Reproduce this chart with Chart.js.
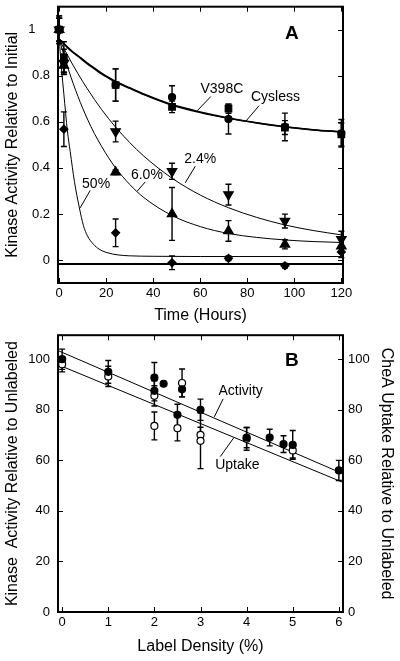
<!DOCTYPE html>
<html>
<head>
<meta charset="utf-8">
<script src="https://cdn.jsdelivr.net/npm/chart.js@4.4.1/dist/chart.umd.min.js"></script>
<style>
  html, body { margin: 0; padding: 0; background: #fff; }
  #wrap { position: relative; width: 400px; height: 661px; }
  canvas { position: absolute; left: 0; display: block; }
  #chartA { top: 0; }
  #chartB { top: 330px; }
</style>
</head>
<body>
<div id="wrap">
  <canvas id="chartA" width="400" height="330"></canvas>
  <canvas id="chartB" width="400" height="331"></canvas>
</div>
<script>
// ---- panel A: kinase activity vs time ----
var timesA = [0, 2, 24, 48, 72, 96, 120];
var v398c = [1.0, 0.865, 0.76, 0.707, 0.612, 0.578, 0.55];
var v398cErr = [0.06, 0.05, 0.07, 0.05, 0.065, 0.06, 0.06];
var cysless = [1.0, 0.878, 0.76, 0.665, 0.657, 0.575, 0.545];
var cyslessErr = [0.06, 0.07, 0.07, 0.025, 0.02, 0.03, 0.05];
var lab24 = [1.0, 0.855, 0.558, 0.385, 0.284, 0.169, 0.09];
var lab24Err = [0.05, 0.04, 0.045, 0.035, 0.045, 0.03, 0.035];
var lab60 = [1.0, 0.845, 0.381, 0.2, 0.126, 0.068, 0.06];
var lab60Err = [0.05, 0.04, 0.01, 0.115, 0.045, 0.02, 0.03];
var lab50 = [1.0, 0.568, 0.118, -0.012, 0.007, -0.025, 0.035];
var lab50Err = [0.05, 0.075, 0.06, 0.03, 0.01, 0.01, 0.025];

// fitted curves
var fitTimes = [0, 2, 4, 6, 8, 10, 12, 15, 18, 21, 24, 30, 36, 48, 60, 72, 84, 96, 108, 120];
var v398cFit = [0.96, 0.94, 0.92, 0.902, 0.887, 0.871, 0.855, 0.833, 0.812, 0.793, 0.776, 0.748, 0.721, 0.675, 0.643, 0.617, 0.596, 0.579, 0.566, 0.557];
var cyslessFit = [0.96, 0.939, 0.918, 0.9, 0.885, 0.868, 0.852, 0.83, 0.808, 0.79, 0.773, 0.745, 0.718, 0.672, 0.64, 0.615, 0.595, 0.578, 0.565, 0.556];
var fit24 = [0.96, 0.919, 0.881, 0.844, 0.809, 0.775, 0.743, 0.697, 0.654, 0.614, 0.577, 0.51, 0.451, 0.355, 0.282, 0.227, 0.185, 0.152, 0.128, 0.109];
var fit60 = [0.96, 0.89, 0.825, 0.765, 0.71, 0.659, 0.612, 0.549, 0.494, 0.444, 0.4, 0.328, 0.271, 0.193, 0.145, 0.115, 0.098, 0.087, 0.08, 0.076];
var fit50Times = [0, 1, 2, 3.5, 4.7, 6.5, 8.6, 10.3, 12, 14.6, 17, 20.3, 25, 30, 40, 60, 120];
var fit50 = [0.96, 0.83, 0.72, 0.56, 0.47, 0.34, 0.226, 0.15, 0.105, 0.068, 0.047, 0.032, 0.022, 0.018, 0.016, 0.015, 0.015];
var baseTimes = [-0.5, 120.7];
var baseLine = [-0.018, -0.018];

var xTicksA = [0, 20, 40, 60, 80, 100, 120];
var yTicksA = [0, 0.2, 0.4, 0.6, 0.8, 1];
var yLabelsA = ['0', '0.2', '0.4', '0.6', '0.8', '1\u2007\u2007'];

// ---- panel B: activity / uptake vs label density ----
var densAct = [0, 1, 2, 2, 2.2, 2.5, 2.6, 3, 4, 4.5, 4.8, 5, 6];
var activity = [100, 95, 92.7, 87.5, 90.3, 78, 88.1, 80, 69, 69, 66.4, 66.1, 56];
var activityErr = [4, 4.5, 6, 4, 0, 4.2, 3, 4.2, 4, 3.3, 3.3, 5.7, 4];
var densUp = [0, 1, 2, 2, 2.5, 2.6, 3, 3, 4, 5];
var uptake = [98, 93.2, 85.5, 73.6, 72.7, 90.6, 70.1, 67.7, 68.5, 63.9];
var uptakeErr = [3, 4, 4, 5.5, 5, 5.5, 3, 11, 4.5, 3];
var lineDens = [-0.1, 6.1];
var activityLine = [103.5, 54.6];
var uptakeLine = [97.9, 51.2];

var xTicksB = [0, 1, 2, 3, 4, 5, 6];
var yTicksB = [0, 20, 40, 60, 80, 100];

Chart.defaults.font.family = "'Liberation Sans', Arial, Helvetica, sans-serif";
Chart.defaults.color = '#000';

function pts(xs, ys) {
    return xs.map(function (x, i) { return { x: x, y: ys[i] }; });
}

function markers(label, xs, ys, errs, style, radius, rot, fill) {
    return {
        label: label,
        data: pts(xs, ys),
        errors: errs,
        showLine: false,
        pointStyle: style,
        pointRadius: radius,
        pointRotation: rot,
        pointBackgroundColor: fill,
        pointBorderColor: '#000',
        pointBorderWidth: 1.2,
        clip: false,
        order: 0
    };
}

function curve(label, xs, ys, w) {
    return {
        label: label,
        data: pts(xs, ys),
        showLine: true,
        pointRadius: 0,
        borderColor: '#000',
        borderWidth: w,
        cubicInterpolationMode: 'monotone',
        fill: false,
        order: 1
    };
}

// error bars drawn behind the markers
var errorBars = {
    id: 'errorBars',
    beforeDatasetsDraw: function (chart) {
        var ctx = chart.ctx;
        var ys = chart.scales.y;
        ctx.save();
        ctx.strokeStyle = '#000';
        ctx.lineWidth = 1.4;
        chart.data.datasets.forEach(function (ds, i) {
            if (!ds.errors) return;
            var meta = chart.getDatasetMeta(i);
            ds.data.forEach(function (p, j) {
                var e = ds.errors[j];
                if (!e) return;
                var x = meta.data[j].x;
                var top = ys.getPixelForValue(p.y + e);
                var bot = ys.getPixelForValue(p.y - e);
                ctx.beginPath();
                ctx.moveTo(x, top); ctx.lineTo(x, bot);
                ctx.moveTo(x - 3, top); ctx.lineTo(x + 3, top);
                ctx.moveTo(x - 3, bot); ctx.lineTo(x + 3, bot);
                ctx.stroke();
            });
        });
        ctx.restore();
    }
};

// box around the plot with inward ticks on all four sides
var frame = {
    id: 'frame',
    afterDraw: function (chart) {
        var ctx = chart.ctx, a = chart.chartArea;
        var xs = chart.scales.x, ys = chart.scales.y;
        ctx.save();
        ctx.strokeStyle = '#000';
        ctx.lineWidth = 1;
        ctx.beginPath();
        xs.ticks.forEach(function (t) {
            var x = Math.round(xs.getPixelForValue(t.value)) + 0.5;
            ctx.moveTo(x, a.bottom); ctx.lineTo(x, a.bottom - 5);
            ctx.moveTo(x, a.top); ctx.lineTo(x, a.top + 5);
        });
        ys.ticks.forEach(function (t) {
            var y = Math.round(ys.getPixelForValue(t.value)) + 0.5;
            ctx.moveTo(a.left, y); ctx.lineTo(a.left + 5, y);
            ctx.moveTo(a.right, y); ctx.lineTo(a.right - 5, y);
        });
        ctx.stroke();
        ctx.lineWidth = 2;
        ctx.strokeRect(a.left, a.top, a.right - a.left, a.bottom - a.top);
        ctx.restore();
    }
};

// curve labels with leader lines, in data coordinates
var notes = {
    id: 'notes',
    afterDraw: function (chart) {
        var ctx = chart.ctx;
        var xs = chart.scales.x, ys = chart.scales.y;
        var list = chart.options.plugins.notes.items;
        ctx.save();
        ctx.fillStyle = '#000';
        ctx.strokeStyle = '#000';
        ctx.lineWidth = 1;
        ctx.textAlign = 'center';
        ctx.textBaseline = 'middle';
        list.forEach(function (n) {
            ctx.font = (n.bold ? 'bold ' : '') + n.size + "px 'Liberation Sans', Arial, sans-serif";
            ctx.fillText(n.text, xs.getPixelForValue(n.x), ys.getPixelForValue(n.y));
            if (n.lead) {
                ctx.beginPath();
                ctx.moveTo(xs.getPixelForValue(n.lead[0]), ys.getPixelForValue(n.lead[1]));
                ctx.lineTo(xs.getPixelForValue(n.lead[2]), ys.getPixelForValue(n.lead[3]));
                ctx.stroke();
            }
        });
        ctx.restore();
    }
};

function fixTicks(list) {
    return function (s) { s.ticks = list.map(function (v) { return { value: v }; }); };
}

var tickFont = { size: 13 };
var titleFont = { size: 16 };

new Chart(document.getElementById('chartA').getContext('2d'), {
    type: 'scatter',
    data: {
        datasets: [
            curve('V398C fit', fitTimes, v398cFit, 1.5),
            curve('Cysless fit', fitTimes, cyslessFit, 1.5),
            curve('2.4% fit', fitTimes, fit24, 1),
            curve('6.0% fit', fitTimes, fit60, 1),
            curve('50% fit', fit50Times, fit50, 1),
            curve('baseline', baseTimes, baseLine, 2),
            markers('V398C', timesA, v398c, v398cErr, 'circle', 3.5, 0, '#000'),
            markers('Cysless', timesA, cysless, cyslessErr, 'rect', 4.6, 0, '#000'),
            markers('2.4%', timesA, lab24, lab24Err, 'triangle', 5.5, 180, '#000'),
            markers('6.0%', timesA, lab60, lab60Err, 'triangle', 5.5, 0, '#000'),
            markers('50%', timesA, lab50, lab50Err, 'rectRot', 4, 0, '#000')
        ]
    },
    options: {
        responsive: false,
        animation: false,
        devicePixelRatio: 1,
        layout: { padding: { top: 5, right: 57, left: 0, bottom: 0 } },
        plugins: {
            legend: { display: false },
            tooltip: { enabled: false },
            notes: {
                items: [
                    { text: 'V398C', x: 69.2, y: 0.74, size: 14, lead: [64.5, 0.71, 58.7, 0.648] },
                    { text: 'Cysless', x: 92, y: 0.706, size: 14, lead: [85, 0.67, 79.4, 0.603] },
                    { text: '2.4%', x: 60, y: 0.436, size: 14, lead: [57.9, 0.407, 53.6, 0.335] },
                    { text: '6.0%', x: 37.3, y: 0.368, size: 14, lead: [36.6, 0.339, 33.1, 0.298] },
                    { text: '50%', x: 15.7, y: 0.33, size: 14, lead: [13.2, 0.302, 8.9, 0.226] },
                    { text: 'A', x: 99, y: 0.984, size: 19, bold: true }
                ]
            }
        },
        scales: {
            x: {
                type: 'linear', min: -0.5, max: 120.7,
                afterBuildTicks: fixTicks(xTicksA),
                afterFit: function (s) { s.height = 47; s.paddingLeft = 0; s.paddingRight = 0; },
                grid: { display: false, drawTicks: false },
                border: { display: false },
                ticks: { font: tickFont, padding: 3, autoSkip: false, maxRotation: 0 },
                title: { display: true, text: 'Time (Hours)', font: titleFont, padding: { top: 0, bottom: 5 } }
            },
            y: {
                type: 'linear', min: -0.1, max: 1.1,
                afterBuildTicks: fixTicks(yTicksA),
                afterFit: function (s) { s.width = 58; s.paddingTop = 0; s.paddingBottom = 0; },
                grid: { display: false, drawTicks: false },
                border: { display: false },
                ticks: {
                    font: tickFont, padding: 8,
                    callback: function (v) { return yLabelsA[yTicksA.indexOf(v)]; }
                },
                title: { display: true, text: 'Kinase Activity Relative to Initial', font: titleFont, padding: { top: 3, bottom: 0 } }
            }
        }
    },
    plugins: [errorBars, frame, notes]
});

new Chart(document.getElementById('chartB').getContext('2d'), {
    type: 'scatter',
    data: {
        datasets: [
            curve('Activity fit', lineDens, activityLine, 1),
            curve('Uptake fit', lineDens, uptakeLine, 1),
            markers('Activity', densAct, activity, activityErr, 'circle', 3.5, 0, '#000'),
            markers('Uptake', densUp, uptake, uptakeErr, 'circle', 3.5, 0, '#fff')
        ]
    },
    options: {
        responsive: false,
        animation: false,
        devicePixelRatio: 1,
        layout: { padding: { top: 3, right: 0, left: 0, bottom: 0 } },
        plugins: {
            legend: { display: false },
            tooltip: { enabled: false },
            notes: {
                items: [
                    { text: 'Activity', x: 3.87, y: 87.4, size: 14, lead: [3.49, 84.3, 3.3, 77.2] },
                    { text: 'Uptake', x: 3.8, y: 58.1, size: 14, lead: [3.43, 61.5, 3.72, 68.9] },
                    { text: 'B', x: 4.98, y: 99.5, size: 19, bold: true }
                ]
            }
        },
        scales: {
            x: {
                type: 'linear', min: -0.09, max: 6.09,
                afterBuildTicks: fixTicks(xTicksB),
                afterFit: function (s) { s.height = 49; s.paddingLeft = 0; s.paddingRight = 0; },
                grid: { display: false, drawTicks: false },
                border: { display: false },
                ticks: { font: tickFont, padding: 3, autoSkip: false, maxRotation: 0 },
                title: { display: true, text: 'Label Density (%)', font: titleFont, padding: { top: 0, bottom: 5 } }
            },
            y: {
                type: 'linear', position: 'left', min: 0, max: 109.5,
                afterBuildTicks: fixTicks(yTicksB),
                afterFit: function (s) { s.width = 58; s.paddingTop = 0; s.paddingBottom = 0; },
                grid: { display: false, drawTicks: false },
                border: { display: false },
                ticks: { font: tickFont, padding: 8 },
                title: { display: true, text: 'Kinase  Activity Relative to Unlabeled', font: titleFont, padding: { top: 3, bottom: 0 } }
            },
            y2: {
                type: 'linear', position: 'right', min: 0, max: 109.5,
                afterBuildTicks: fixTicks(yTicksB),
                afterFit: function (s) { s.width = 57; s.paddingTop = 0; s.paddingBottom = 0; },
                grid: { display: false, drawTicks: false },
                border: { display: false },
                ticks: { font: tickFont, padding: 5 },
                title: { display: true, text: 'CheA Uptake Relative to Unlabeled', font: titleFont, padding: { top: 4, bottom: 0 } }
            }
        }
    },
    plugins: [errorBars, frame, notes]
});
</script>
</body>
</html>
